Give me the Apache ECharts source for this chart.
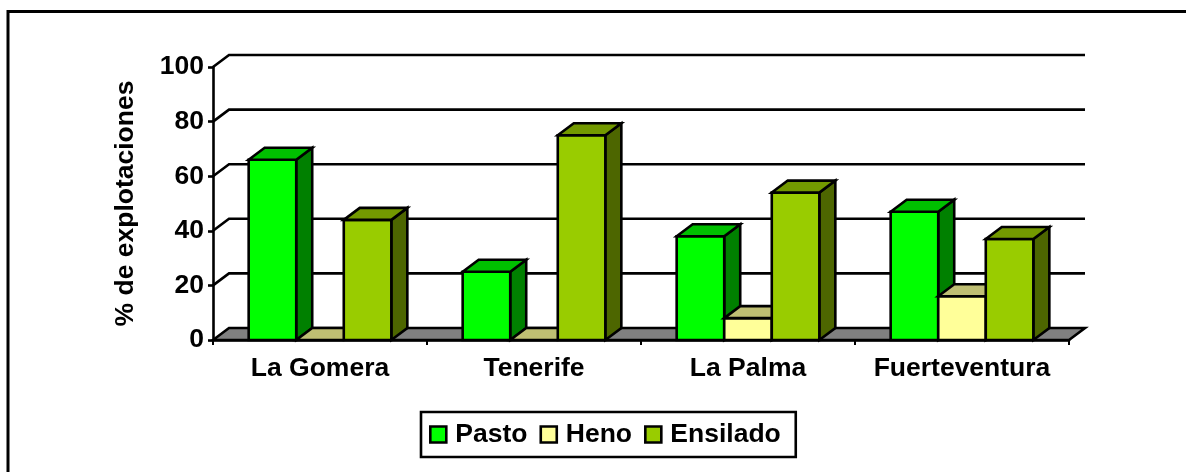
<!DOCTYPE html>
<html>
<head>
<meta charset="utf-8">
<style>html,body{margin:0;padding:0;background:#fff}#c{width:1186px;height:472px}</style>
<script src="https://cdn.jsdelivr.net/npm/echarts@6/dist/echarts.min.js"></script>
</head>
<body>
<div id="c"></div>
<script>
const categories = ['La Gomera', 'Tenerife', 'La Palma', 'Fuerteventura'];
const pasto = [66, 25, 38, 47];
const heno = [0, 0, 8, 16];
const ensilado = [44, 75, 54, 37];
const yTicks = [0, 20, 40, 60, 80, 100];
const seriesNames = ['Pasto', 'Heno', 'Ensilado'];
const faces = [
  {front: '#00FF00', top: '#00C000', side: '#008000'},
  {front: '#FFFF99', top: '#BFBF73', side: '#80804D'},
  {front: '#99CC00', top: '#739900', side: '#4D6600'}
];
const DX = 16, DY = 12, LW = 2.6, FONT = 'Liberation Sans', FS = 26.5;

const chart = echarts.init(document.getElementById('c'), null, {renderer: 'canvas'});
const line = {stroke: '#000', lineWidth: LW, lineJoin: 'miter'};

function barRenderer(si) {
  return function (params, api) {
    const idx = api.value(0), val = api.value(1);
    const base = api.coord([idx, 0]);
    const tip = api.coord([idx, val]);
    const band = api.size([1, 0])[0];
    const w = band / 4.5; // three bars, gap of half the group
    const x0 = base[0] - 1.5 * w + si * w, x1 = x0 + w;
    const yb = base[1], yt = tip[1];
    const poly = (pts, fill) => ({type: 'polygon', shape: {points: pts},
      style: Object.assign({fill: fill}, line)});
    const kids = [];
    if (val > 0) {
      kids.push(poly([[x1, yb], [x1 + DX, yb - DY], [x1 + DX, yt - DY], [x1, yt]], faces[si].side));
      kids.push(poly([[x0, yb], [x1, yb], [x1, yt], [x0, yt]], faces[si].front));
    }
    kids.push(poly([[x0, yt], [x0 + DX, yt - DY], [x1 + DX, yt - DY], [x1, yt]], faces[si].top));
    return {type: 'group', children: kids};
  };
}

function wallRenderer(params, api) {
  const v = api.value(0);
  const left = api.coord([0, v]);
  const band = api.size([1, 0])[0];
  const xL = left[0] - band / 2, xR = xL + band * categories.length, y = left[1];
  if (v === 0) {
    return {type: 'polygon', shape: {points: [[xL, y], [xL + DX, y - DY], [xR + DX, y - DY], [xR, y]]},
      style: Object.assign({fill: '#808080'}, line)};
  }
  return {type: 'polyline', shape: {points: [[xL, y], [xL + DX, y - DY], [xR + DX, y - DY]]},
    style: Object.assign({fill: 'none'}, line)};
}

const barData = [pasto, heno, ensilado];
chart.setOption({
  animation: false,
  backgroundColor: '#fff',
  textStyle: {fontFamily: FONT},
  grid: {left: 213, right: 117, top: 67, bottom: 132},
  xAxis: {
    type: 'category', data: categories, boundaryGap: true,
    axisLine: {lineStyle: {color: '#000', width: LW}},
    axisTick: {show: true, length: 5, alignWithLabel: false, lineStyle: {color: '#000', width: 2}},
    axisLabel: {color: '#000', fontFamily: FONT, fontWeight: 'bold', fontSize: FS, margin: 15, interval: 0}
  },
  yAxis: {
    type: 'value', min: 0, max: 100, interval: 20,
    name: '% de explotaciones', nameLocation: 'middle', nameGap: 74, nameRotate: 90,
    nameTextStyle: {color: '#000', fontFamily: FONT, fontWeight: 'bold', fontSize: FS},
    splitLine: {show: false},
    axisLine: {show: true, lineStyle: {color: '#000', width: LW}},
    axisTick: {show: true, length: 5, lineStyle: {color: '#000', width: LW}},
    axisLabel: {color: '#000', fontFamily: FONT, fontWeight: 'bold', fontSize: FS, margin: 9, padding: [3, 0, 0, 0]}
  },
  legend: {
    left: 421, top: 412, orient: 'horizontal',
    data: seriesNames.map((n, i) => ({name: n, icon: 'rect',
      itemStyle: {color: faces[i].front, borderColor: '#000', borderWidth: 2.6}})),
    itemWidth: 16, itemHeight: 16, itemGap: 12,
    padding: [9, 15, 9, 8],
    backgroundColor: '#fff', borderColor: '#000', borderWidth: 2.6,
    textStyle: {color: '#000', fontFamily: FONT, fontWeight: 'bold', fontSize: FS, padding: [3, 0, 0, 4]}
  },
  graphic: [{
    type: 'polyline', silent: true, z: 10,
    shape: {points: [[8, 472], [8, 11.5], [1186, 11.5]]},
    style: {fill: 'none', stroke: '#000', lineWidth: 3}
  }],
  series: [
    {type: 'custom', name: 'wall', coordinateSystem: 'cartesian2d', z: 1, clip: false, silent: true,
     encode: {x: 1, y: 0}, data: yTicks.map(t => [t, 0]), renderItem: wallRenderer}
  ].concat(seriesNames.map((n, si) => ({
    type: 'custom', name: n, coordinateSystem: 'cartesian2d', z: 2 + si, clip: false, silent: true,
    encode: {x: 0, y: 1},
    itemStyle: {color: faces[si].front},
    data: barData[si].map((v, i) => [i, v]),
    renderItem: barRenderer(si)
  })))
});
</script>
</body>
</html>
